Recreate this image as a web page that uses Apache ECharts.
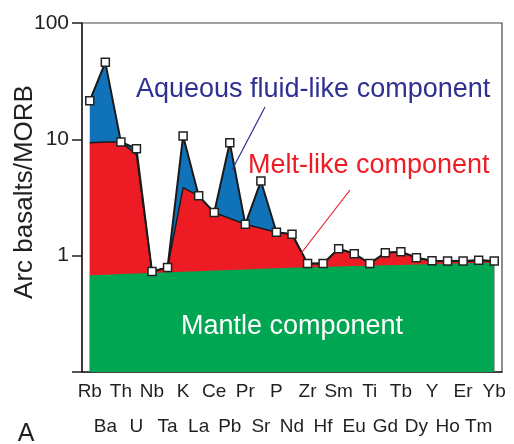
<!DOCTYPE html>
<html>
<head>
<meta charset="utf-8">
<script src="https://cdn.jsdelivr.net/npm/echarts@6/dist/echarts.min.js"></script>
<style>
  html, body { margin: 0; padding: 0; background: #fff; }
  #chart { width: 514px; height: 444px; }
</style>
</head>
<body>
<div id="chart"></div>
<script>
// Trace elements, ordered by incompatibility
const elements = ['Rb','Ba','Th','U','Nb','Ta','K','La','Ce','Pb','Pr','Sr','P','Nd',
                  'Zr','Hf','Sm','Eu','Ti','Gd','Tb','Dy','Y','Ho','Er','Tm','Yb'];

// Arc basalt / MORB ratio (total, measured points)
const totalRatio = [21.5, 45.9, 9.5, 8.3, 0.73, 0.79, 10.7, 3.27, 2.35, 9.34, 1.86, 4.38, 1.59, 1.53,
                    0.856, 0.856, 1.146, 1.04, 0.856, 1.06, 1.08, 0.96, 0.905, 0.9, 0.9, 0.915, 0.9];

// Upper boundary of the melt-like contribution
const meltRatio = [9.34, 9.5, 9.5, 7.4, 0.73, 0.79, 3.85, 3.27, 2.35, 2.09, 1.86, 1.72, 1.59, 1.53,
                   0.856, 0.856, 1.146, 1.04, 0.856, 1.06, 1.08, 0.96, 0.905, 0.9, 0.9, 0.915, 0.9];

// Upper boundary of the mantle contribution
const mantleRatio = [0.678, 0.686, 0.694, 0.702, 0.710, 0.719, 0.727, 0.736, 0.744, 0.753, 0.762, 0.771,
                     0.780, 0.789, 0.795, 0.801, 0.808, 0.814, 0.820, 0.827, 0.833, 0.839, 0.846,
                     0.853, 0.860, 0.866, 0.873];

const yTicks = [0.1, 1, 10, 100];

const BLUE = '#1072b9', RED = '#ed1c24', GREEN = '#00a651', INK = '#231f20';
const FONT = 'Liberation Sans, Arial, Helvetica, sans-serif';

const chart = echarts.init(document.getElementById('chart'), null, { renderer: 'canvas' });

chart.setOption({
  animation: false,
  backgroundColor: '#fff',
  grid: { left: 82, right: 12, top: 23, bottom: 65, show: true, borderColor: '#444', borderWidth: 1.2 },
  xAxis: [
    {
      type: 'category', data: elements, boundaryGap: true, position: 'bottom',
      axisLine: { lineStyle: { color: INK, width: 1.5 } },
      axisTick: { alignWithLabel: true, length: 4, lineStyle: { color: INK, width: 1 } },
      axisLabel: {
        interval: 0, margin: 2, color: INK, fontFamily: FONT, fontSize: 19, lineHeight: 35,
        formatter: (v, i) => (i % 2 ? '\n' + v : v)
      }
    },
    {
      type: 'category', data: elements, boundaryGap: true, position: 'bottom',
      axisLine: { show: false },
      axisTick: { alignWithLabel: true, inside: true, length: 5, lineStyle: { color: INK, width: 1 } },
      axisLabel: { show: false }
    }
  ],
  yAxis: {
    type: 'log', logBase: 10, min: yTicks[0], max: yTicks[yTicks.length - 1],
    axisLine: { show: true, lineStyle: { color: INK, width: 1.5 } },
    axisTick: { show: true, length: 10, lineStyle: { color: INK, width: 1.5 } },
    axisLabel: {
      color: INK, fontFamily: FONT, fontSize: 21, margin: 13,
      formatter: v => (v < 1 ? '' : String(Math.round(v)))
    },
    splitLine: { show: false },
    minorTick: { show: false }
  },
  series: [
    {
      name: 'fluid', type: 'line', data: totalRatio, z: 1,
      symbol: 'none', lineStyle: { width: 0 },
      areaStyle: { color: BLUE, opacity: 1, origin: 'start' }
    },
    {
      name: 'melt', type: 'line', data: meltRatio, z: 2,
      symbol: 'none', lineStyle: { color: '#1a1a1a', width: 1.5 },
      areaStyle: { color: RED, opacity: 1, origin: 'start' }
    },
    {
      name: 'mantle', type: 'line', data: mantleRatio, z: 3,
      symbol: 'none', lineStyle: { width: 0 },
      areaStyle: { color: GREEN, opacity: 1, origin: 'start' }
    },
    {
      name: 'total', type: 'line', data: totalRatio, z: 5,
      symbol: 'rect', symbolSize: 8,
      lineStyle: { color: '#1a1a1a', width: 2 },
      itemStyle: { color: '#fff', borderColor: '#222', borderWidth: 1.5 }
    }
  ],
  graphic: [
    {
      type: 'text', x: 25, y: 192, rotation: Math.PI / 2,
      style: { text: 'Arc basalts/MORB', fill: INK, font: '26px ' + FONT, align: 'center', verticalAlign: 'middle' }
    },
    {
      type: 'text', x: 26, y: 434,
      style: { text: 'A', fill: INK, font: '25px ' + FONT, align: 'center', verticalAlign: 'middle' }
    },
    {
      type: 'text', x: 136, y: 90, z: 10,
      style: { text: 'Aqueous fluid-like component', fill: '#2e3192', font: '27px ' + FONT, align: 'left', verticalAlign: 'middle' }
    },
    {
      type: 'text', x: 248, y: 166, z: 10,
      style: { text: 'Melt-like component', fill: RED, font: '27px ' + FONT, align: 'left', verticalAlign: 'middle' }
    },
    {
      type: 'text', x: 292, y: 327, z: 10,
      style: { text: 'Mantle component', fill: '#fff', font: '27px ' + FONT, align: 'center', verticalAlign: 'middle' }
    },
    {
      type: 'line', z: 10,
      shape: { x1: 265, y1: 107, x2: 232, y2: 170 },
      style: { stroke: '#2e3192', lineWidth: 1.2 }
    },
    {
      type: 'line', z: 10,
      shape: { x1: 350, y1: 190, x2: 299, y2: 256 },
      style: { stroke: RED, lineWidth: 1.2 }
    }
  ]
});
</script>
</body>
</html>
